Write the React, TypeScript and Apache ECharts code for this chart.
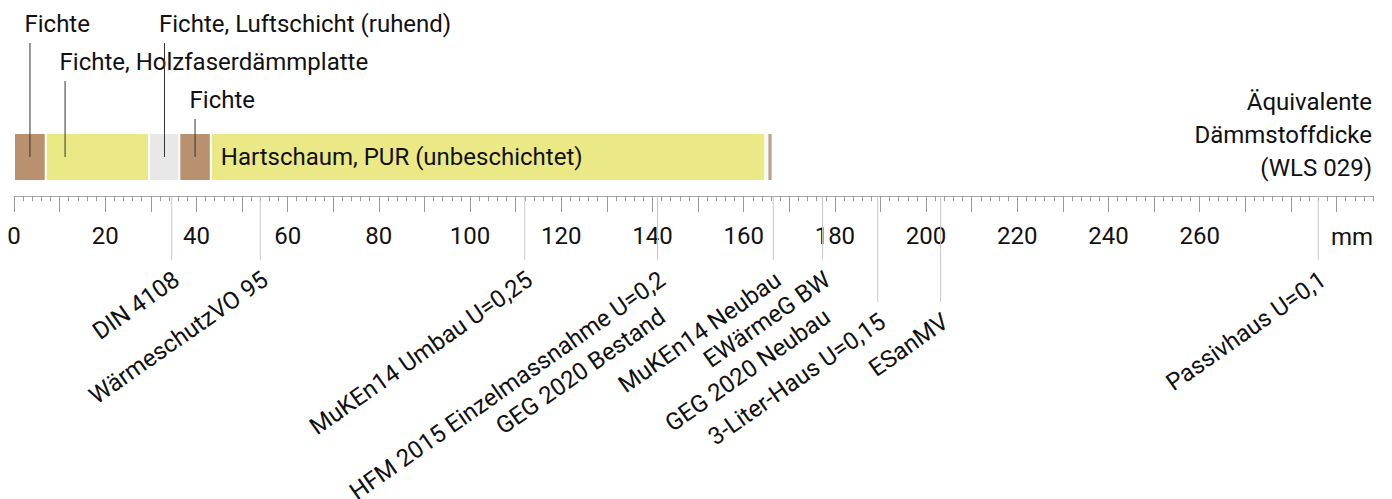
import React, { useEffect, useRef } from "react";
import * as echarts from "echarts";

// Wall layers (equivalent insulation thickness, mm, WLS 029)
const layerNames = [
  "Fichte",
  "Fichte, Holzfaserdämmplatte",
  "Fichte, Luftschicht (ruhend)",
  "Fichte",
  "Hartschaum, PUR (unbeschichtet)",
  "Folie",
  "Fichte innen",
];
const layerValues = [6.95, 22.65, 6.65, 6.9, 121.6, 0.45, 1.15];
const layerColors = ["#b9916f", "#ebe985", "#e8e8e8", "#b9916f", "#ebe985", "#dedede", "#b8a487"];

// Annotations above the bar
const annotLabels = ["Fichte", "Fichte, Holzfaserdämmplatte", "Fichte, Luftschicht (ruhend)", "Fichte"];
const annotAt = [3.5, 11.2, 33.0, 39.7];
const annotRow = [0, 1, 0, 2];

// Reference standards (mm)
const refValues = [34.6, 54, 112, 141.1, 166.5, 177.3, 189.4, 203.2, 286];
const refLabels = [
  ["DIN 4108"],
  ["WärmeschutzVO 95"],
  ["MuKEn14 Umbau U=0,25"],
  ["HFM 2015 Einzelmassnahme U=0,2", "GEG 2020 Bestand"],
  ["MuKEn14 Neubau"],
  ["EWärmeG BW", "GEG 2020 Neubau"],
  ["3-Liter-Haus U=0,15"],
  ["ESanMV"],
  ["Passivhaus U=0,1"],
];
const refRow = [0, 0, 0, 0, 0, 0, 1, 1, 0];

// Axis
const axisMin = 0;
const axisMax = 298;
const tickLabels = [0, 20, 40, 60, 80, 100, 120, 140, 160, 180, 200, 220, 240, 260];
const majorTicks = [0, 10, 20, 30, 40, 50, 60, 70, 80, 90, 100, 110, 120, 130, 140, 150, 160, 170, 180, 190, 200, 210, 220, 230, 240, 250, 260, 270, 280, 290];
const axisUnit = "mm";
const titleLines = ["Äquivalente", "Dämmstoffdicke", "(WLS 029)"];

const FONT = "Roboto, 'Noto Sans', sans-serif";
const TXT = "#111";

export default function App() {
  const ref = useRef<HTMLDivElement>(null);
  useEffect(() => {
    if (!ref.current) return;
    const chart = echarts.init(ref.current, null, { renderer: "svg" });
    const gridTop = 118;
    const gridHeight = 78;
    const axisY = gridTop + gridHeight;
    const option: any = {
      animation: false,
      grid: { left: 14, right: 19, top: gridTop, height: gridHeight },
      xAxis: [
        {
          type: "value",
          min: axisMin,
          max: axisMax,
          interval: 2,
          position: "bottom",
          axisLine: { show: true, lineStyle: { color: "#aaaaaa", width: 1 } },
          axisTick: { show: true, length: 5, lineStyle: { color: "#999999", width: 1 } },
          splitLine: { show: false },
          axisLabel: {
            customValues: tickLabels,
            margin: 28,
            color: TXT,
            fontSize: 24,
            fontFamily: FONT,
            formatter: (v: number) => (tickLabels.indexOf(v) >= 0 ? String(v) : ""),
          },
        },
        {
          type: "value",
          min: axisMin,
          max: axisMax,
          interval: 10,
          position: "bottom",
          axisLine: { show: false },
          axisTick: { show: true, length: 16, customValues: majorTicks, lineStyle: { color: "#999999", width: 1 } },
          axisLabel: { show: false },
          splitLine: { show: false },
        },
      ],
      yAxis: { type: "category", data: ["Wand"], show: false },
      series: layerValues.map((v, i) => ({
        type: "bar",
        name: layerNames[i],
        stack: "wall",
        xAxisIndex: 0,
        barWidth: 48,
        data: [v],
        itemStyle: { color: layerColors[i], borderColor: "#ffffff", borderWidth: 1 },
        label:
          i === 4
            ? {
                show: true,
                position: "insideLeft",
                distance: 10,
                formatter: layerNames[i],
                color: TXT,
                fontSize: 24,
                fontFamily: FONT,
              }
            : { show: false },
      })),
    };
    chart.setOption(option);

    const px = (v: number) => chart.convertToPixel({ xAxisIndex: 0 }, v) as number;
    const barY = chart.convertToPixel({ yAxisIndex: 0 }, 0) as number;
    const graphics: any[] = [];

    // top annotations
    const rowY = [24, 62, 100];
    annotLabels.forEach((t, i) => {
      const x = px(annotAt[i]);
      const y = rowY[annotRow[i]];
      graphics.push({
        type: "line",
        shape: { x1: x, y1: y + 19, x2: x, y2: barY },
        style: { stroke: "#333333", lineWidth: 1 },
        z: 100,
      });
      graphics.push({
        type: "text",
        x: x - 5.5,
        y,
        style: { text: t, fill: TXT, fontSize: 24, fontFamily: FONT, align: "left", verticalAlign: "middle" },
        z: 100,
      });
    });

    // reference lines
    const rowBottom = [260, 302];
    const angle = (35 * Math.PI) / 180;
    refValues.forEach((v, i) => {
      const x = px(v);
      const yb = rowBottom[refRow[i]];
      graphics.push({
        type: "line",
        shape: { x1: x, y1: axisY, x2: x, y2: yb },
        style: { stroke: "#c8c8c8", lineWidth: 1 },
        z: 50,
      });
      refLabels[i].forEach((t, j) => {
        graphics.push({
          type: "text",
          x: x + 5,
          y: yb + 17 + j * 37,
          rotation: angle,
          style: { text: t, fill: TXT, fontSize: 24, fontFamily: FONT, align: "right", verticalAlign: "middle" },
          z: 100,
        });
      });
    });

    // unit label
    graphics.push({
      type: "text",
      x: px(axisMax),
      y: axisY + 40.5,
      style: { text: axisUnit, fill: TXT, fontSize: 24, fontFamily: FONT, align: "right", verticalAlign: "middle" },
    });

    // title at right
    const titleY = [101.5, 135, 168];
    titleLines.forEach((t, i) => {
      graphics.push({
        type: "text",
        x: px(axisMax) - 1,
        y: titleY[i],
        style: { text: t, fill: TXT, fontSize: 24, fontFamily: FONT, align: "right", verticalAlign: "middle" },
      });
    });

    chart.setOption({ graphic: graphics });
    return () => chart.dispose();
  }, []);
  return (
    <div
      ref={ref}
      style={{ position: "absolute", left: 0, top: 0, width: 1392, height: 499, background: "#fff" }}
    />
  );
}
